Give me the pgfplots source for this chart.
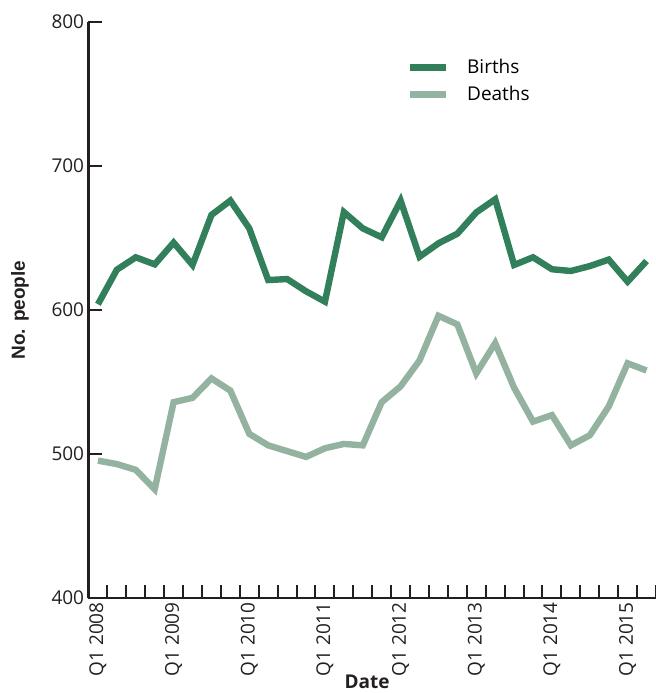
\documentclass[border=0pt]{standalone}
\usepackage{fontspec}
\setmainfont{Open Sans}
\newfontfamily\arialfont{Liberation Sans}
\usepackage{pgfplots}
\pgfplotsset{compat=1.18}
\definecolor{births}{RGB}{50,127,91}
\definecolor{deaths}{RGB}{147,179,160}
\definecolor{axc}{RGB}{35,31,32}
\begin{document}
\begin{tikzpicture}
\begin{axis}[
  at={(0,0)}, anchor=south west,
  scale only axis, width=283.75pt, height=288pt,
  xmin=-0.5, xmax=29.5, ymin=400, ymax=800,
  clip=false,
  axis lines=left,
  axis line style={-, line width=1.3pt, color=axc},
  tick align=inside,
  xtick={0,4,...,28},
  xticklabels={Q1 2008,Q1 2009,Q1 2010,Q1 2011,Q1 2012,Q1 2013,Q1 2014,Q1 2015},
  major x tick style={draw=none},
  minor xtick={-0.5,0.5,...,29.5},
  minor tick length=6.5pt,
  major tick length=7pt,
  every tick/.style={line width=1pt, color=axc},
  minor tick style={line width=1pt, color=axc},
  ytick={400,500,600,700,800},
  /pgf/number format/assume math mode=true,
  xticklabel style={rotate=90, anchor=east, font=\fontsize{9.5}{11}\selectfont, color=axc, inner sep=2pt},
  yticklabel style={font=\fontsize{9.5}{11}\selectfont, color=axc, inner sep=2pt},
  xlabel={\bfseries Date},
  xlabel style={at={(axis description cs:0.491,0)}, anchor=center, yshift=-42pt, font=\fontsize{9.5}{11}\selectfont, color=axc},
  ylabel={\arialfont\bfseries No. people},
  ylabel style={at={(axis description cs:-0.1207,0.5)}, anchor=center, font=\fontsize{9.5}{11}\selectfont, color=axc},
  legend style={at={(axis description cs:0.549,0.951)}, anchor=north west, draw=none, fill=none,
    font=\fontsize{9.5}{11}\selectfont, row sep=0.8pt, cells={anchor=west}},
  legend image code/.code={\draw[#1, line width=3.5pt] (0pt,0pt) -- (18pt,0pt); \path (25pt,0pt);},
  every axis plot/.append style={line width=3.2pt},
]
\addplot[births] coordinates {
(0,604) (1,628) (2,636.6) (3,631.7) (4,646.8) (5,631.3) (6,666) (7,676) (8,656.7) (9,620.8)
(10,621.5) (11,613) (12,605.8) (13,668) (14,656.7) (15,650.5) (16,675.9) (17,637) (18,646.3) (19,653)
(20,667.8) (21,676.9) (22,631.3) (23,636.6) (24,628.3) (25,627.1) (26,630.5) (27,635) (28,619.7) (29,634)
};
\addlegendentry{Births}
\addplot[deaths] coordinates {
(0,495.4) (1,493) (2,489) (3,475.5) (4,536) (5,539) (6,552.5) (7,544) (8,514) (9,506)
(10,502) (11,498) (12,504) (13,507) (14,506) (15,536) (16,547) (17,565) (18,596) (19,590)
(20,556) (21,577) (22,546) (23,522.5) (24,527) (25,506) (26,513) (27,533) (28,563) (29,558)
};
\addlegendentry{Deaths}
\end{axis}
\pgfresetboundingbox
\path[use as bounding box] (-44.25pt,-47.5pt) rectangle (283.75pt,299pt);
\end{tikzpicture}
\end{document}
